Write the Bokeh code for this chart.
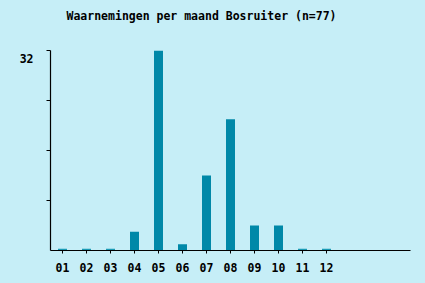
from bokeh.plotting import figure
from bokeh.models import Range1d, FixedTicker, ColumnDataSource, Title
from bokeh.embed import file_html
from bokeh.resources import INLINE

months = ["01", "02", "03", "04", "05", "06", "07", "08", "09", "10", "11", "12"]
counts = [0, 0, 0, 3, 32, 1, 12, 21, 4, 4, 0, 0]
title_text = "Waarnemingen per maand Bosruiter (n=77)"
y_max = 32
y_ticks = [8, 16, 24, 32]

BG = "#c6eef7"
BAR = "#0088a8"
ZERO = "#1a9ab5"
FONT = "DejaVu Sans Mono"

xs = [i + 0.5 for i in range(len(months))]
tops = [c if c > 0 else 0.3 for c in counts]
colors = [BAR if c > 0 else ZERO for c in counts]
src = ColumnDataSource(dict(x=xs, top=tops, color=colors))

p = figure(width=425, height=283, output_backend="svg", toolbar_location=None,
           x_range=Range1d(0, 15), y_range=Range1d(0, y_max),
           min_border_left=50, min_border_right=15, min_border_top=50, min_border_bottom=33)
p.styles = {"background-color": BG}
p.background_fill_alpha = 0
p.border_fill_alpha = 0
p.outline_line_color = None
p.xgrid.visible = False
p.ygrid.visible = False

p.vbar(x="x", top="top", bottom=0, width=0.375, fill_color="color", line_color=None, source=src)

# spacer between frame and title
p.add_layout(Title(text=" ", text_font=FONT, text_font_size="20px", standoff=0), "above")

t = Title(text=title_text, text_font=FONT, text_font_size="11.5px", text_font_style="bold",
          text_color="black", align="left", offset=16, standoff=4)
p.title = t

xa = p.xaxis[0]
xa.ticker = FixedTicker(ticks=xs)
xa.major_label_overrides = {x: m for x, m in zip(xs, months)}
xa.minor_tick_line_color = None
xa.major_tick_in = 0
xa.major_tick_out = 3
xa.major_label_standoff = 9
xa.major_label_text_font = FONT
xa.major_label_text_font_style = "bold"
xa.major_label_text_font_size = "11.5px"
xa.major_label_text_color = "black"
xa.axis_line_color = "black"
xa.axis_line_width = 1.2

ya = p.yaxis[0]
ya.ticker = FixedTicker(ticks=y_ticks)
ya.major_label_overrides = {v: ("\n" + str(v) if v == y_max else "") for v in y_ticks}
ya.minor_tick_line_color = None
ya.major_tick_in = 0
ya.major_tick_out = 4
ya.major_label_standoff = 13
ya.major_label_text_font = FONT
ya.major_label_text_font_style = "bold"
ya.major_label_text_font_size = "11.5px"
ya.major_label_text_color = "black"
ya.axis_line_color = "black"
ya.axis_line_width = 1.2

open("out.html", "w").write(file_html(p, INLINE))
